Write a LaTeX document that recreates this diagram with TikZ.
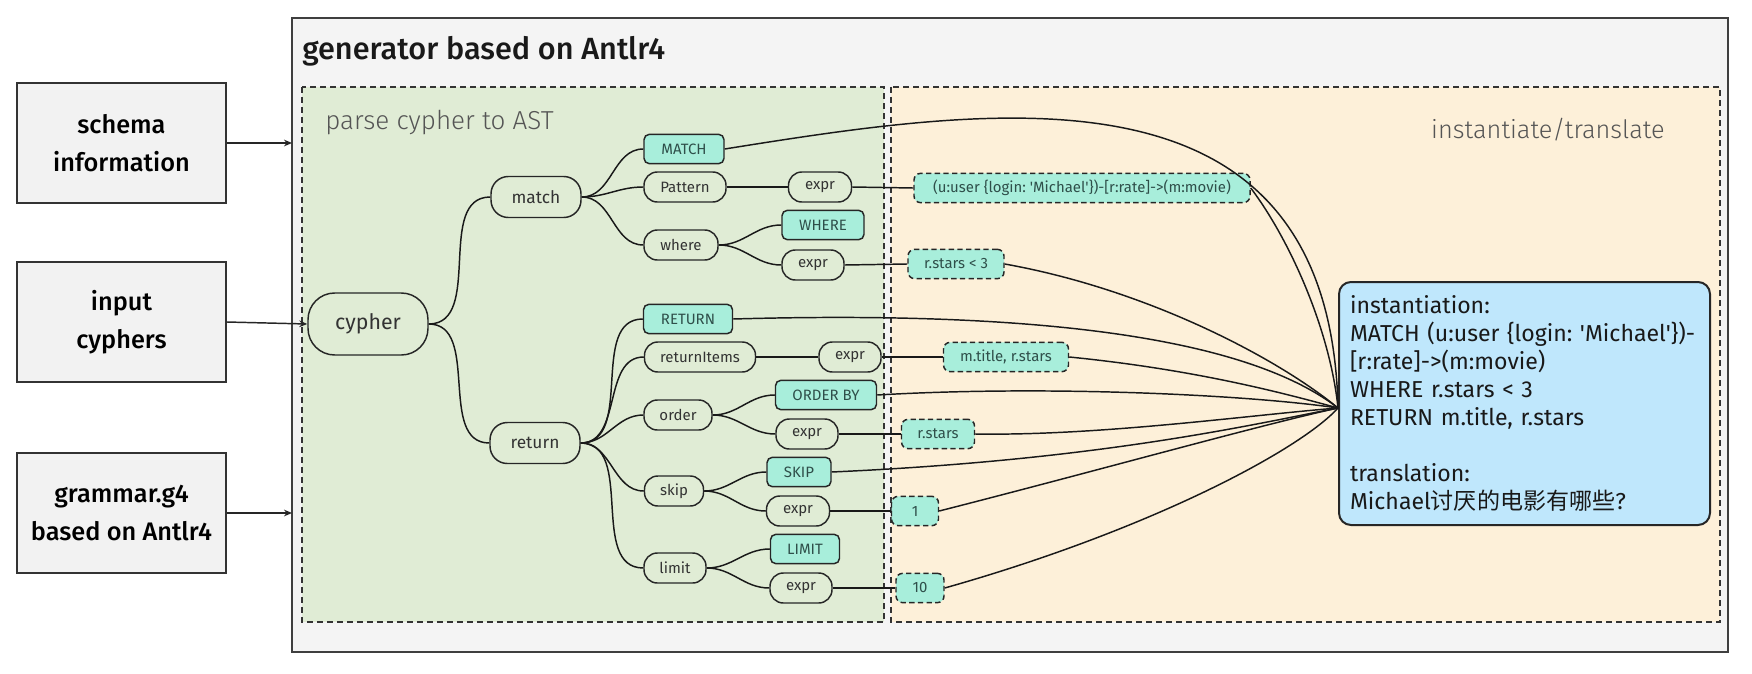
\documentclass[tikz,border=0pt]{standalone}
\usepackage{fontspec}
\setmainfont{Fira Sans}
\newfontfamily\medfont{Fira Sans Medium}
\newfontfamily\lightfont{Fira Sans Light}
\newfontfamily\cjk{Noto Sans CJK SC}
\usetikzlibrary{arrows.meta,calc}
\definecolor{outerfill}{HTML}{F4F4F4}
\definecolor{outerline}{HTML}{3F3F3F}
\definecolor{leftfill}{HTML}{F2F2F2}
\definecolor{greenbg}{HTML}{E0ECD5}
\definecolor{yellowbg}{HTML}{FDF0D9}
\definecolor{tealfill}{HTML}{A8EEDB}
\definecolor{tealtext}{HTML}{2F4F4A}
\definecolor{bluefill}{HTML}{BFE7FC}
\definecolor{nodetext}{HTML}{333333}
\definecolor{labelgray}{HTML}{555555}
\frenchspacing
\newcommand{\sq}{\textquotesingle}
\begin{document}
\begin{tikzpicture}[x=0.75pt,y=-0.75pt,
  outerbox/.style={draw=outerline,fill=outerfill,line width=1.5pt},
  region/.style={draw=black!80,line width=0.9pt,dash pattern=on 4.5pt off 3pt},
  leftbox/.style={draw=black!80,fill=leftfill,line width=1.1pt,minimum width=156.75pt,minimum height=90pt,align=center,inner sep=0pt,
    font=\medfont\fontsize{19pt}{28.5pt}\selectfont},
  tnode/.style={draw=black!85,fill=greenbg,line width=1.1pt,rounded corners=10pt,inner sep=0pt,text=nodetext,
    minimum height=22.5pt,font=\fontsize{11.25pt}{13pt}\selectfont},
  bignode/.style={tnode,minimum height=30.75pt,rounded corners=13pt,font=\fontsize{13pt}{16pt}\selectfont},
  kw/.style={draw=black!85,fill=tealfill,line width=1.1pt,rounded corners=4pt,inner sep=0pt,text=tealtext,
    minimum height=22pt,font=\fontsize{11.25pt}{13pt}\selectfont},
  val/.style={kw,dash pattern=on 4pt off 2.5pt,rounded corners=5pt,font=\fontsize{11.2pt}{13pt}\selectfont},
  tedge/.style={line width=1.1pt,draw=black!90},
  fan/.style={line width=1.1pt,draw=black!90},
  arr/.style={line width=1.1pt,draw=black!85,-{Stealth[length=6pt,width=5pt]}}
]
\useasboundingbox (0,0) rectangle (1752,674);
\fill[white] (0,0) rectangle (1752,674);
% outer container
\draw[outerbox] (292,18) rectangle (1728,652);
\node[anchor=west,inner sep=0pt,font=\medfont\fontsize{23pt}{27pt}\selectfont,text=black!90] (title) at (302,51) {generator based on Antlr4};
% regions
\draw[region,fill=greenbg] (302,87) rectangle (884,622);
\draw[region,fill=yellowbg] (891,87) rectangle (1720,622);
\node[anchor=west,inner sep=0pt,font=\lightfont\fontsize{19.5pt}{23pt}\selectfont,text=labelgray] (lparse) at (325,123) {parse cypher to AST};
\node[anchor=east,inner sep=0pt,font=\lightfont\fontsize{19pt}{23pt}\selectfont,text=labelgray] (linst) at (1665,130) {instantiate/translate};
% left boxes
\node[leftbox] (schema) at (121.5,143) {schema\\information};
\node[leftbox] (input) at (121.5,322) {input\\cyphers};
\node[leftbox] (grammar) at (121.5,513) {grammar.g4\\based on Antlr4};
\coordinate (inA) at (292,143);
\coordinate (inC) at (292,513);
% tree nodes
\node[bignode,minimum width=90pt,minimum height=46.5pt,rounded corners=20pt,font=\fontsize{16pt}{19pt}\selectfont] (cypher) at (368,324) {cypher};
\node[bignode,minimum width=67.5pt] (match) at (536,197) {match};
\node[bignode,minimum width=67.5pt] (return) at (535,443) {return};
\node[kw,minimum width=60pt] (MATCH) at (684,149) {MATCH};
\node[tnode,minimum width=61.5pt] (pattern) at (685,187) {Pattern};
\node[tnode,minimum width=47.25pt] (expr1) at (820,187) {expr};
\node[kw,minimum width=61.5pt] (WHERE) at (823,225) {WHERE};
\node[tnode,minimum width=55.5pt] (where) at (681,245) {where};
\node[tnode,minimum width=46.5pt] (expr2) at (813,265) {expr};
\node[kw,minimum width=66.75pt] (RETURN) at (688,319) {RETURN};
\node[tnode,minimum width=83.25pt] (retitems) at (700,357) {returnItems};
\node[tnode,minimum width=46.5pt] (expr3) at (850,357) {expr};
\node[kw,minimum width=75.75pt] (ORDERBY) at (826,395) {ORDER BY};
\node[tnode,minimum width=51pt] (order) at (678,415) {order};
\node[tnode,minimum width=46.5pt] (expr4) at (807,434) {expr};
\node[kw,minimum width=48pt] (SKIP) at (799,472) {SKIP};
\node[tnode,minimum width=44.25pt] (skip) at (674,491) {skip};
\node[tnode,minimum width=47.25pt] (expr5) at (798,511) {expr};
\node[kw,minimum width=51.75pt] (LIMIT) at (805,549) {LIMIT};
\node[tnode,minimum width=46.5pt] (limit) at (675,568) {limit};
\node[tnode,minimum width=46.5pt] (expr6) at (801,588) {expr};
% value boxes
\node[val,minimum width=252pt] (v1) at (1082,188) {(u:user \{login: \sq Michael\sq\})-[r:rate]->(m:movie)};
\node[val,minimum width=72pt] (v2) at (956,264) {r.stars < 3};
\node[val,minimum width=93.75pt] (v3) at (1006,357) {m.title, r.stars};
\node[val,minimum width=54.75pt] (v4) at (938,434) {r.stars};
\node[val,minimum width=35.25pt] (v5) at (915,511) {1};
\node[val,minimum width=36pt] (v6) at (920,588) {10};
% result box
\node[draw=black!85,fill=bluefill,line width=1.5pt,rounded corners=9pt,inner xsep=8.25pt,inner ysep=0pt,
  text width=261.75pt,minimum height=182.25pt,align=left,
  font=\fontsize{17.3pt}{21pt}\selectfont,text=black!90] (inst) at (1524.5,403.5)
  {instantiation:\\MATCH (u:user \{login: \sq Michael\sq\})-\\{[}r:rate]->(m:movie)\\WHERE r.stars < 3\\RETURN m.title, r.stars\\[21pt]translation:\\Michael{\cjk 讨厌的电影有哪些}?};
\coordinate (conv) at (1338,408);
% input arrows
\draw[arr] (schema.east) -- (inA);
\draw[arr] (input.east) -- (cypher.west);
\draw[arr] (grammar.east) -- (inC);
% tree edges
\foreach \a/\b in {cypher/match,cypher/return,match/MATCH,match/pattern,match/where,where/WHERE,where/expr2,
  return/RETURN,return/retitems,return/order,return/skip,return/limit,order/ORDERBY,order/expr4,
  skip/SKIP,skip/expr5,limit/LIMIT,limit/expr6}
  \draw[tedge] (\a.east) to[out=0,in=180] (\b.west);
\draw[tedge] (pattern.east) -- (expr1.west);
\draw[tedge] (expr1.east) -- (v1.west);
\draw[tedge] (expr2.east) -- (v2.west);
\draw[tedge] (retitems.east) -- (expr3.west);
\draw[tedge] (expr3.east) -- (v3.west);
\draw[tedge] (expr4.east) -- (v4.west);
\draw[tedge] (expr5.east) -- (v5.west);
\draw[tedge] (expr6.east) -- (v6.west);
% fan into result
\draw[fan] (MATCH.east) .. controls (1000,105) and (1330,55) .. (conv);
\draw[fan] (v1.east) .. controls (1290,240) and (1330,330) .. (conv);
\draw[fan] (v2.east) .. controls (1150,290) and (1280,360) .. (conv);
\draw[fan] (RETURN.east) .. controls (1050,310) and (1250,340) .. (conv);
\draw[fan] (v3.east) .. controls (1200,370) and (1290,395) .. (conv);
\draw[fan] (ORDERBY.east) .. controls (1050,385) and (1250,395) .. (conv);
\draw[fan] (v4.east) .. controls (1100,436) and (1250,415) .. (conv);
\draw[fan] (SKIP.east) .. controls (1100,460) and (1250,425) .. (conv);
\draw[fan] (v5.east) .. controls (1100,470) and (1260,425) .. (conv);
\draw[fan] (v6.east) .. controls (1150,530) and (1300,450) .. (conv);
\end{tikzpicture}
\end{document}
